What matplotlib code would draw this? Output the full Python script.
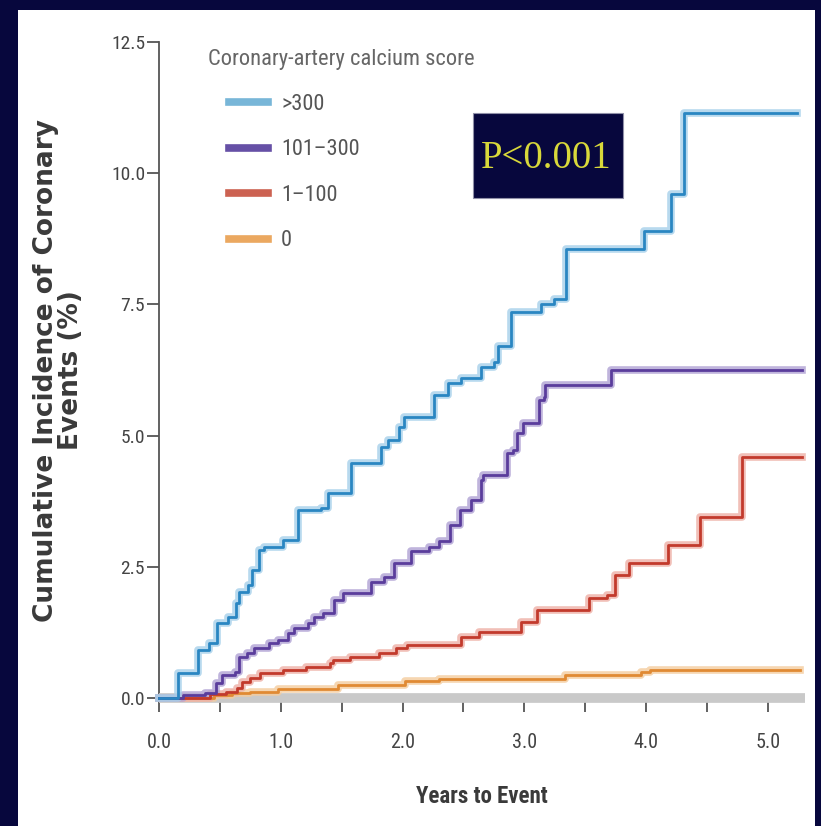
import matplotlib
matplotlib.use("Agg")
import matplotlib.pyplot as plt
from matplotlib import font_manager as fm
from matplotlib.lines import Line2D
from matplotlib.patches import Rectangle

# pick a narrow sans if one is there
names = {f.name for f in fm.fontManager.ttflist}
narrow = next((n for n in ["Liberation Sans Narrow", "Roboto Condensed", "Open Sans Condensed"]
               if n in names), "Liberation Sans")

# step data (years, cumulative incidence %)
t_300 = [0, 0.12, 0.16, 0.32, 0.41, 0.48, 0.57, 0.63, 0.66, 0.73, 0.76, 0.82, 0.86, 1.02, 1.14,
         1.33, 1.39, 1.58, 1.82, 1.88, 1.97, 2.01, 2.26, 2.37, 2.48, 2.64, 2.75, 2.78, 2.89, 3.14,
         3.24, 3.34, 3.98, 4.2, 4.31, 5.24]
v_300 = [0, 0, 0.48, 0.92, 1.05, 1.43, 1.54, 1.81, 2.02, 2.15, 2.44, 2.82, 2.88, 3.01, 3.58,
         3.62, 3.9, 4.47, 4.78, 4.91, 5.16, 5.35, 5.77, 6.0, 6.1, 6.3, 6.4, 6.7, 7.35, 7.5,
         7.6, 8.55, 8.9, 9.6, 11.15, 11.15]

t_101 = [0, 0.2, 0.38, 0.47, 0.52, 0.62, 0.66, 0.72, 0.78, 0.9, 0.98, 1.06, 1.11, 1.22, 1.27,
         1.35, 1.44, 1.51, 1.74, 1.85, 1.93, 2.07, 2.22, 2.3, 2.39, 2.47, 2.56, 2.64, 2.66, 2.86,
         2.91, 2.94, 2.99, 3.12, 3.16, 3.17, 3.71, 5.28]
v_101 = [0, 0.05, 0.1, 0.28, 0.44, 0.5, 0.78, 0.85, 0.95, 1.05, 1.1, 1.24, 1.33, 1.43, 1.54,
         1.62, 1.87, 2.0, 2.21, 2.3, 2.57, 2.8, 2.87, 3.0, 3.3, 3.58, 3.77, 4.15, 4.25, 4.67,
         4.72, 5.05, 5.24, 5.68, 5.73, 5.96, 6.25, 6.25]

t_1 = [0, 0.42, 0.55, 0.64, 0.68, 0.75, 0.83, 1.02, 1.21, 1.4, 1.43, 1.57, 1.81, 1.95, 2.04,
       2.48, 2.63, 2.97, 3.1, 3.53, 3.68, 3.74, 3.86, 4.18, 4.44, 4.79, 5.28]
v_1 = [0, 0.08, 0.12, 0.2, 0.3, 0.38, 0.47, 0.53, 0.6, 0.67, 0.72, 0.78, 0.85, 0.95, 1.01,
       1.16, 1.26, 1.45, 1.68, 1.9, 1.96, 2.34, 2.57, 2.91, 3.45, 4.6, 4.6]

t_0 = [0, 0.45, 0.6, 0.75, 0.98, 1.47, 2.02, 2.3, 3.33, 3.96, 4.03, 5.26]
v_0 = [0, 0.05, 0.09, 0.12, 0.18, 0.25, 0.32, 0.37, 0.44, 0.49, 0.53, 0.53]

labels = [">300", "101\u2013300", "1\u2013100", "0"]
core = ["#2a86c2", "#5a3d9c", "#c23a2c", "#e08a34"]
halo = ["#a6d0ea", "#b0a2d4", "#eeb0a6", "#f4cc9e"]
legend_col = ["#78b6d8", "#6650a6", "#cc6252", "#eba860"]

series = [(t_300, v_300), (t_101, v_101), (t_1, v_1), (t_0, v_0)]

fig = plt.figure(figsize=(8.21, 8.26), dpi=100)
fig.patch.set_facecolor("#07073d")
fig.patches.append(Rectangle((18 / 821, 0), (815 - 18) / 821, (826 - 10) / 826,
                             transform=fig.transFigure, facecolor="white",
                             edgecolor="none", zorder=-10))

ax = fig.add_axes([159 / 821, 128 / 826, (804.5 - 159) / 821, 656 / 826])
ax.set_facecolor("none")

# gray baseline band
ax.plot([0, 5.3], [0, 0], color="#c9c9c9", lw=7, solid_capstyle="butt",
        clip_on=False, zorder=3)

for (t, v), c, h in zip(series[::-1], core[::-1], halo[::-1]):
    ax.step(t, v, where="post", color=h, lw=5.5, alpha=0.8, clip_on=False, zorder=4)
    ax.step(t, v, where="post", color=c, lw=2, clip_on=False, zorder=5)

ax.set_xlim(0, 5.3)
ax.set_ylim(0, 12.5)
ax.set_xticks([0, 1, 2, 3, 4, 5])
ax.set_xticklabels(["0.0", "1.0", "2.0", "3.0", "4.0", "5.0"])
ax.set_xticks([0.5, 1.5, 2.5, 3.5, 4.5], minor=True)
ax.set_yticks([0, 2.5, 5, 7.5, 10, 12.5])
ax.set_yticklabels(["0.0", "2.5", "5.0", "7.5", "10.0", "12.5"])

for s in ["top", "right", "bottom"]:
    ax.spines[s].set_visible(False)
ax.spines["left"].set_color("#555555")
ax.spines["left"].set_linewidth(1.3)

ax.tick_params(axis="y", length=9, width=1.3, color="#555555", pad=1,
               labelsize=14, labelcolor="#444444")
ax.tick_params(axis="x", which="both", length=10, width=1.3, color="#555555", pad=15,
               labelsize=14.5, labelcolor="#444444")
for lab in ax.get_xticklabels() + ax.get_yticklabels():
    lab.set_family(narrow)

ax.set_xlabel("Years to Event", fontsize=16.5, fontweight="bold", color="#3a3a3a",
              family=narrow)
ax.xaxis.set_label_coords(0.5, -0.133)
ax.set_ylabel("Cumulative Incidence of Coronary\nEvents (%)", fontsize=19,
              fontweight="bold", color="#3a3a3a", linespacing=0.92)
ax.yaxis.set_label_coords(-0.156, 0.5)
ax.yaxis.label.set_verticalalignment("center")

# legend
fig.text(208 / 821, 1 - 60 / 826, "Coronary-artery calcium score", fontsize=16.2,
         color="#666666", family=narrow, ha="left", va="center")
handles = [Line2D([], [], color=c, lw=5.5) for c in legend_col]
leg = fig.legend(handles, labels, loc="upper left", bbox_to_anchor=(229 / 821, 1 - 94 / 826),
                 frameon=False, borderpad=0, borderaxespad=0,
                 labelspacing=1.1, handlelength=1.75, handletextpad=0.6,
                 prop={"family": narrow, "size": 16})
for txt in leg.get_texts():
    txt.set_color("#555555")

# p-value box
fig.patches.append(Rectangle((473 / 821, 1 - 198 / 826), 150 / 821, 85 / 826,
                             transform=fig.transFigure, facecolor="#07073d",
                             edgecolor="#9090a8", lw=0.8, zorder=6))
fig.text(546 / 821, 1 - 158 / 826, "P<0.001", fontsize=28, color="#d8d83a",
         family="Liberation Serif", ha="center", va="center", zorder=7)

fig.savefig("out.png", dpi=100, facecolor=fig.get_facecolor())
